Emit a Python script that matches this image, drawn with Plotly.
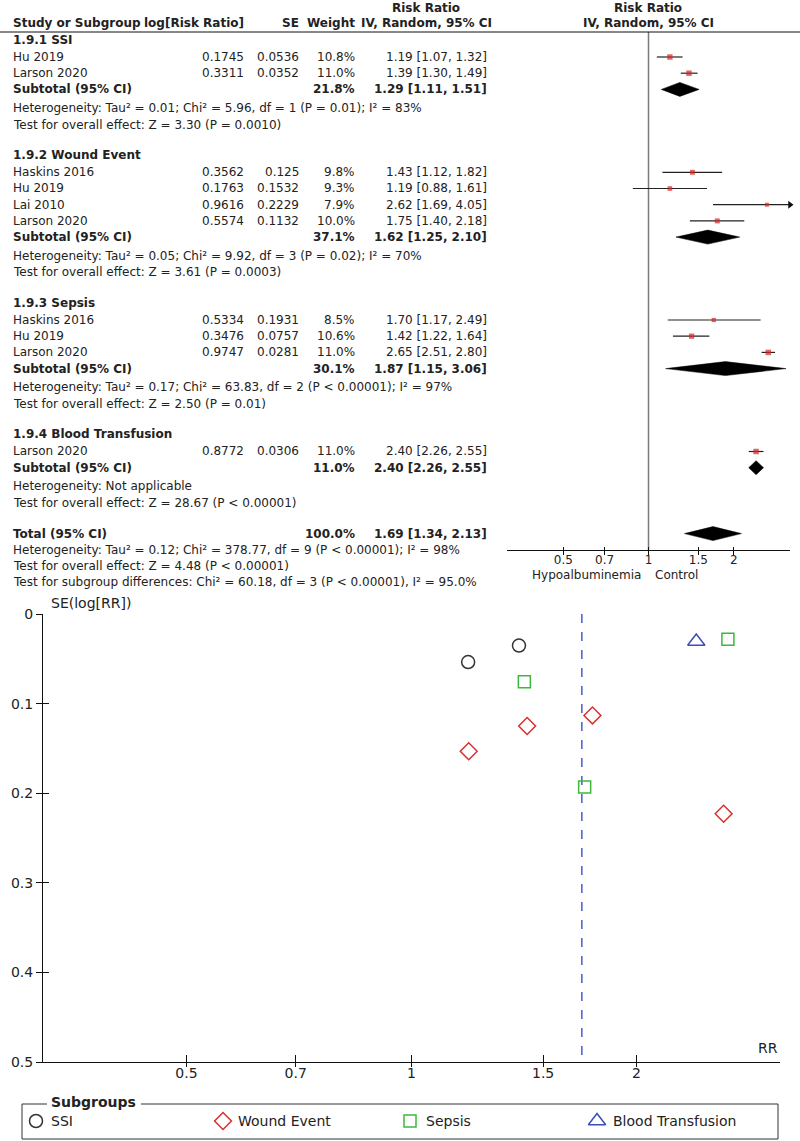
import math
import plotly.graph_objects as go

# ---------------- data ----------------
subgroup_titles = ["1.9.1 SSI", "1.9.2 Wound Event", "1.9.3 Sepsis", "1.9.4 Blood Transfusion"]
subgroup_short = ["SSI", "Wound Event", "Sepsis", "Blood Transfusion"]

study_names = ["Hu 2019", "Larson 2020",
               "Haskins 2016", "Hu 2019", "Lai 2010", "Larson 2020",
               "Haskins 2016", "Hu 2019", "Larson 2020",
               "Larson 2020"]
study_group = [0, 0, 1, 1, 1, 1, 2, 2, 2, 3]
log_rr = [0.1745, 0.3311, 0.3562, 0.1763, 0.9616, 0.5574, 0.5334, 0.3476, 0.9747, 0.8772]
se_log_rr = [0.0536, 0.0352, 0.125, 0.1532, 0.2229, 0.1132, 0.1931, 0.0757, 0.0281, 0.0306]
weights = [10.8, 11.0, 9.8, 9.3, 7.9, 10.0, 8.5, 10.6, 11.0, 11.0]
rr = [1.19, 1.39, 1.43, 1.19, 2.62, 1.75, 1.70, 1.42, 2.65, 2.40]
ci_low = [1.07, 1.30, 1.12, 0.88, 1.69, 1.40, 1.17, 1.22, 2.51, 2.26]
ci_high = [1.32, 1.49, 1.82, 1.61, 4.05, 2.18, 2.49, 1.64, 2.80, 2.55]

sub_weight = [21.8, 37.1, 30.1, 11.0]
sub_rr = [1.29, 1.62, 1.87, 2.40]
sub_low = [1.11, 1.25, 1.15, 2.26]
sub_high = [1.51, 2.10, 3.06, 2.55]
sub_heterogeneity = [
    "Heterogeneity: Tau² = 0.01; Chi² = 5.96, df = 1 (P = 0.01); I² = 83%",
    "Heterogeneity: Tau² = 0.05; Chi² = 9.92, df = 3 (P = 0.02); I² = 70%",
    "Heterogeneity: Tau² = 0.17; Chi² = 63.83, df = 2 (P < 0.00001); I² = 97%",
    "Heterogeneity: Not applicable",
]
sub_overall = [
    "Test for overall effect: Z = 3.30 (P = 0.0010)",
    "Test for overall effect: Z = 3.61 (P = 0.0003)",
    "Test for overall effect: Z = 2.50 (P = 0.01)",
    "Test for overall effect: Z = 28.67 (P < 0.00001)",
]
total_weight = 100.0
total_rr = 1.69
total_low = 1.34
total_high = 2.13
total_lines = [
    "Heterogeneity: Tau² = 0.12; Chi² = 378.77, df = 9 (P < 0.00001); I² = 98%",
    "Test for overall effect: Z = 4.48 (P < 0.00001)",
    "Test for subgroup differences: Chi² = 60.18, df = 3 (P < 0.00001), I² = 95.0%",
]

rr_ticks = [0.5, 0.7, 1, 1.5, 2]
rr_tick_labels = ["0.5", "0.7", "1", "1.5", "2"]
se_ticks = [0, 0.1, 0.2, 0.3, 0.4, 0.5]
se_tick_labels = ["0", "0.1", "0.2", "0.3", "0.4", "0.5"]

# ---------------- styling / layout ----------------
FW, FH = 800, 1141
FONT = "DejaVu Sans"
TXT = "#222222"
group_symbols = ["circle-open", "diamond-open", "square-open", "triangle-up-open"]
group_colors = ["#333333", "#d8302f", "#3cb83c", "#3a4db8"]
group_sizes = [13, 13, 12, 15]

FOREST_LOG_RANGE = [-0.5, 0.5]
FUNNEL_LOG_RANGE = [-0.493, 0.493]
FOREST_TOP, FOREST_BOTTOM = 32, 550
FUNNEL_TOP, FUNNEL_BOTTOM = 614, 1062


def px(x):
    return x / FW


def py(y):
    return 1 - y / FH


# row positions (pixels from top)
header_y, sub_y, het_y, test_y = [], [], [], []
study_y = [0.0] * len(study_names)
y = 40
for g in range(len(subgroup_titles)):
    header_y.append(y)
    y += 17
    for i, gg in enumerate(study_group):
        if gg == g:
            study_y[i] = y
            y += 16.2
    sub_y.append(y)
    y += 18.7
    het_y.append(y)
    y += 16.5
    test_y.append(y)
    y += 30.7
total_y = y
total_line_y = [total_y + 16 * (k + 1) for k in range(len(total_lines))]

annotations = []


def txt(x, y, s, anchor="left", bold=False, size=12, color=TXT):
    annotations.append(dict(x=px(x), y=py(y), xref="paper", yref="paper",
                            text=f"<b>{s}</b>" if bold else s, showarrow=False,
                            xanchor=anchor, yanchor="middle", borderpad=0,
                            font=dict(family=FONT, size=size, color=color)))


# table header
COL_NAME, COL_LOG, COL_SE, COL_W, COL_CI = 12, 245, 300, 356, 488
txt(426, 8, "Risk Ratio", "center", True)
txt(COL_NAME, 23, "Study or Subgroup", "left", True)
txt(COL_LOG, 23, "log[Risk Ratio]", "right", True)
txt(COL_SE, 23, "SE", "right", True)
txt(COL_W, 23, "Weight", "right", True)
txt(426, 23, "IV, Random, 95% CI", "center", True)
txt(648, 8, "Risk Ratio", "center", True)
txt(648, 23, "IV, Random, 95% CI", "center", True)

for g in range(len(subgroup_titles)):
    txt(COL_NAME, header_y[g], subgroup_titles[g], "left", True)
    txt(COL_NAME, sub_y[g], "Subtotal (95% CI)", "left", True)
    txt(COL_W, sub_y[g], f"{sub_weight[g]:.1f}%", "right", True)
    txt(COL_CI, sub_y[g], f"{sub_rr[g]:.2f} [{sub_low[g]:.2f}, {sub_high[g]:.2f}]", "right", True)
    txt(COL_NAME, het_y[g], sub_heterogeneity[g])
    txt(COL_NAME, test_y[g], sub_overall[g])

for i, name in enumerate(study_names):
    yy = study_y[i]
    txt(COL_NAME, yy, name)
    txt(COL_LOG, yy, str(log_rr[i]), "right")
    txt(COL_SE, yy, str(se_log_rr[i]), "right")
    txt(COL_W, yy, f"{weights[i]:.1f}%", "right")
    txt(COL_CI, yy, f"{rr[i]:.2f} [{ci_low[i]:.2f}, {ci_high[i]:.2f}]", "right")

txt(COL_NAME, total_y, "Total (95% CI)", "left", True)
txt(COL_W, total_y, f"{total_weight:.1f}%", "right", True)
txt(COL_CI, total_y, f"{total_rr:.2f} [{total_low:.2f}, {total_high:.2f}]", "right", True)
for k, s in enumerate(total_lines):
    txt(COL_NAME, total_line_y[k], s)

txt(642, 575, "Hypoalbuminemia", "right")
txt(654, 575, "Control", "left")

# funnel labels
txt(50, 603, "SE(log[RR])", "left", size=14)
txt(779, 1048, "RR", "right", size=14)

# legend
LEG_L, LEG_R, LEG_T, LEG_B = 22, 778, 1104, 1139
LEG_Y = 1121
leg_marker_x = [36, 223, 410, 597]
leg_text_x = [50, 237, 425, 612]
txt(50, 1102, "Subgroups", "left", True, size=14)
for k, s in enumerate(subgroup_short):
    txt(leg_text_x[k], LEG_Y, s, "left", size=14)

shapes = []


def pline(x0, y0, x1, y1, color="#333333", width=1):
    shapes.append(dict(type="line", xref="paper", yref="paper",
                       x0=px(x0), x1=px(x1), y0=py(y0), y1=py(y1),
                       line=dict(color=color, width=width)))


pline(0, FOREST_TOP, FW, FOREST_TOP, "#111111", 1)
pline(LEG_L, LEG_T, LEG_L, LEG_B)
pline(LEG_L, LEG_B, LEG_R, LEG_B)
pline(LEG_R, LEG_T, LEG_R, LEG_B)
pline(LEG_L, LEG_T, 47, LEG_T)
pline(141, LEG_T, LEG_R, LEG_T)

fig = go.Figure()

# ---------------- forest plot ----------------
x_max = 10 ** FOREST_LOG_RANGE[1]
fig.add_trace(go.Scatter(x=[1, 1], y=[FOREST_TOP, FOREST_BOTTOM], mode="lines",
                         line=dict(color="#7a7a7a", width=1.5), xaxis="x", yaxis="y",
                         hoverinfo="skip", showlegend=False))
lx, ly = [], []
for i in range(len(study_names)):
    lx += [ci_low[i], min(ci_high[i], x_max), None]
    ly += [study_y[i], study_y[i], None]
fig.add_trace(go.Scatter(x=lx, y=ly, mode="lines", line=dict(color="#222222", width=1.2),
                         xaxis="x", yaxis="y", showlegend=False, hoverinfo="skip"))
arrow_y = [study_y[i] for i in range(len(study_names)) if ci_high[i] > x_max]
fig.add_trace(go.Scatter(x=[x_max] * len(arrow_y), y=arrow_y, mode="markers",
                         marker=dict(symbol="triangle-right", size=7, color="#111111"),
                         cliponaxis=False, xaxis="x", yaxis="y", showlegend=False))
fig.add_trace(go.Scatter(x=rr, y=study_y, mode="markers",
                         marker=dict(symbol="square", size=[w * 0.5 for w in weights],
                                     color="#d42424", line=dict(width=0)),
                         xaxis="x", yaxis="y", showlegend=False))
dx, dy = [], []
HALF = 7
for lo, est, hi, yy in list(zip(sub_low, sub_rr, sub_high, sub_y)) + [(total_low, total_rr, total_high, total_y)]:
    dx += [lo, est, hi, est, lo, None]
    dy += [yy, yy - HALF, yy, yy + HALF, yy, None]
fig.add_trace(go.Scatter(x=dx, y=dy, mode="lines", fill="toself", fillcolor="#000000",
                         line=dict(color="#000000", width=0.5), xaxis="x", yaxis="y",
                         showlegend=False, hoverinfo="skip"))
# overlay axis for inside ticks
fig.add_trace(go.Scatter(x=[], y=[], xaxis="x3", yaxis="y", showlegend=False))

# ---------------- funnel plot ----------------
fig.add_trace(go.Scatter(x=[total_rr, total_rr], y=[se_ticks[0], se_ticks[-1]], mode="lines",
                         line=dict(color="#4a5bc8", width=1.5, dash="dash"),
                         xaxis="x2", yaxis="y2", showlegend=False, hoverinfo="skip"))
for g in range(len(subgroup_short)):
    idx = [i for i, gg in enumerate(study_group) if gg == g]
    fig.add_trace(go.Scatter(
        x=[math.exp(log_rr[i]) for i in idx], y=[se_log_rr[i] for i in idx],
        mode="markers", name=subgroup_short[g],
        marker=dict(symbol=group_symbols[g], size=group_sizes[g], color=group_colors[g],
                    line=dict(width=1.5, color=group_colors[g])),
        xaxis="x2", yaxis="y2", showlegend=False, cliponaxis=False))
fig.add_trace(go.Scatter(x=[], y=[], xaxis="x5", yaxis="y2", showlegend=False))
fig.add_trace(go.Scatter(x=[], y=[], xaxis="x2", yaxis="y5", showlegend=False))

# legend markers (pixel axis)
for g in range(len(subgroup_short)):
    fig.add_trace(go.Scatter(
        x=[leg_marker_x[g]], y=[LEG_Y], mode="markers",
        marker=dict(symbol=group_symbols[g], size=group_sizes[g], color=group_colors[g],
                    line=dict(width=1.5, color=group_colors[g])),
        xaxis="x4", yaxis="y4", showlegend=False, hoverinfo="skip"))

axis_font = dict(family=FONT, size=12, color=TXT)
axis_font14 = dict(family=FONT, size=14, color=TXT)

fig.update_layout(
    width=FW, height=FH, autosize=False,
    margin=dict(l=0, r=0, t=0, b=0, pad=0, autoexpand=False),
    paper_bgcolor="white", plot_bgcolor="rgba(0,0,0,0)",
    showlegend=False,
    annotations=annotations, shapes=shapes,
    xaxis=dict(domain=[px(507), px(790)], anchor="y", type="log", range=FOREST_LOG_RANGE,
               automargin=False,
               showgrid=False, zeroline=False, showline=True, linecolor="#111111", linewidth=1,
               ticks="outside", ticklen=4, tickcolor="#111111", tickvals=rr_ticks,
               ticktext=rr_tick_labels, tickfont=axis_font, ticklabelstandoff=-5),
    xaxis3=dict(overlaying="x", anchor="y", type="log", range=FOREST_LOG_RANGE,
                automargin=False,
                showgrid=False, zeroline=False, showline=False, ticks="inside", ticklen=3,
                tickcolor="#111111", tickvals=rr_ticks, showticklabels=False),
    yaxis=dict(domain=[py(FOREST_BOTTOM), py(FOREST_TOP)], anchor="x", automargin=False,
               range=[FOREST_BOTTOM, FOREST_TOP], visible=False),
    xaxis2=dict(domain=[px(43), px(780)], anchor="y2", type="log", range=FUNNEL_LOG_RANGE,
                automargin=False,
                showgrid=False, zeroline=False, showline=True, linecolor="#111111", linewidth=1,
                ticks="outside", ticklen=4, tickcolor="#111111", tickvals=rr_ticks,
                ticktext=rr_tick_labels, tickfont=axis_font14, ticklabelstandoff=-6),
    xaxis5=dict(overlaying="x2", anchor="y2", type="log", range=FUNNEL_LOG_RANGE,
                automargin=False,
                showgrid=False, zeroline=False, showline=False, ticks="inside", ticklen=7,
                tickcolor="#111111", tickvals=rr_ticks, showticklabels=False),
    yaxis2=dict(domain=[py(FUNNEL_BOTTOM), py(FUNNEL_TOP)], anchor="x2", automargin=False,
                range=[se_ticks[-1], se_ticks[0]], showgrid=False, zeroline=False,
                showline=True, linecolor="#111111", linewidth=1,
                ticks="outside", ticklen=6, tickcolor="#111111", tickvals=se_ticks,
                ticktext=se_tick_labels, tickfont=axis_font14),
    yaxis5=dict(overlaying="y2", anchor="x2", side="left", automargin=False,
                range=[se_ticks[-1], se_ticks[0]], showgrid=False, zeroline=False,
                showline=False, ticks="inside", ticklen=6, tickcolor="#111111",
                tickvals=se_ticks, showticklabels=False),
    xaxis4=dict(domain=[0, 1], anchor="y4", range=[0, FW], visible=False, automargin=False),
    yaxis4=dict(domain=[0, 1], anchor="x4", range=[FH, 0], visible=False, automargin=False),
)

fig.write_html("out.html", config={"displayModeBar": False},
               post_script="document.body.style.margin='0px';document.body.style.overflow='hidden';")
